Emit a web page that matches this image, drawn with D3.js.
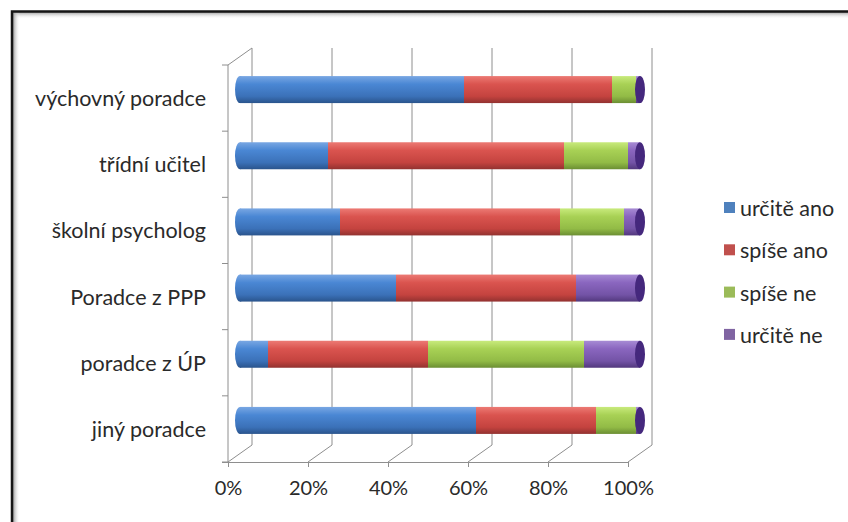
<!DOCTYPE html>
<html>
<head>
<meta charset="utf-8">
<script src="https://cdn.jsdelivr.net/npm/d3@7"></script>
<style>
  html, body { margin: 0; padding: 0; background: #fff; }
  svg { display: block; }
  text { font-family: Lato, "Open Sans", sans-serif; fill: #2a2a2a; }
</style>
</head>
<body>
<svg id="chart" width="848" height="522"></svg>
<script>
// Advisers and how much respondents trust them (percent of answers)
const categories = ["výchovný poradce", "třídní učitel", "školní psycholog", "Poradce z PPP", "poradce z ÚP", "jiný poradce"];
const seriesNames = ["určitě ano", "spíše ano", "spíše ne", "určitě ne"];
const urciteAno = [56, 22, 25, 39, 7, 59];
const spiseAno  = [37, 59, 55, 45, 40, 30];
const spiseNe   = [6, 16, 16, 0, 39, 10];
const urciteNe  = [1, 3, 4, 16, 14, 1];
const tickValues = [0, 20, 40, 60, 80, 100];

const seriesKeys = ["urciteAno", "spiseAno", "spiseNe", "urciteNe"];
const rows = categories.map((c, i) => ({
  category: c,
  urciteAno: urciteAno[i], spiseAno: spiseAno[i], spiseNe: spiseNe[i], urciteNe: urciteNe[i]
}));

// cylinder shading (light top, dark bottom) and flat legend colours
const shades = {
  urciteAno: ["#79a7e3", "#4a87d4", "#3b71b8", "#2a548c"],
  spiseAno:  ["#ec7a74", "#da544f", "#c4433f", "#923230"],
  spiseNe:   ["#c8ea7c", "#a8d155", "#92bb46", "#6b8e33"],
  urciteNe:  ["#a78bd4", "#8a66bf", "#7353a6", "#52387d"]
};
const legendColors = { urciteAno: "#4f81bd", spiseAno: "#c0504d", spiseNe: "#9bbb59", urciteNe: "#8064a2" };
const capColor = { urciteAno: "#2c5a96", spiseAno: "#8f2f2c", spiseNe: "#5f8a2a", urciteNe: "#45287d" };

const svg = d3.select("#chart");
const defs = svg.append("defs");

// gradients for the cylinders
seriesKeys.forEach(k => {
  const g = defs.append("linearGradient").attr("id", "grad-" + k)
    .attr("x1", 0).attr("y1", 0).attr("x2", 0).attr("y2", 1);
  const s = shades[k];
  [[0, s[0]], [0.3, s[1]], [0.75, s[2]], [1, s[3]]].forEach(([o, c]) =>
    g.append("stop").attr("offset", o).attr("stop-color", c));
});
// soft inner shadow of the outer frame
const shTop = defs.append("linearGradient").attr("id", "shTop").attr("x1", 0).attr("y1", 0).attr("x2", 0).attr("y2", 1);
shTop.append("stop").attr("offset", 0).attr("stop-color", "#9a9a9a");
shTop.append("stop").attr("offset", 1).attr("stop-color", "#ffffff").attr("stop-opacity", 0);
const shLeft = defs.append("linearGradient").attr("id", "shLeft").attr("x1", 0).attr("y1", 0).attr("x2", 1).attr("y2", 0);
shLeft.append("stop").attr("offset", 0).attr("stop-color", "#9a9a9a");
shLeft.append("stop").attr("offset", 1).attr("stop-color", "#ffffff").attr("stop-opacity", 0);

// outer frame
svg.append("rect").attr("x", 13).attr("y", 12).attr("width", 840).attr("height", 7).attr("fill", "url(#shTop)");
svg.append("rect").attr("x", 13).attr("y", 12).attr("width", 7).attr("height", 515).attr("fill", "url(#shLeft)");
svg.append("path").attr("d", "M12,530 V11.5 H860").attr("fill", "none").attr("stroke", "#151515").attr("stroke-width", 2.5);

// 3D geometry: front plane and depth offset
const front = { left: 228, right: 628, top: 65, bottom: 462 };
const depth = { dx: 24, dy: -17 };
const x = d3.scaleLinear().domain([0, 100]).range([front.left, front.right]);
const y = d3.scaleBand().domain(categories).range([front.top, front.bottom]);

const grid = svg.append("g").attr("stroke", "#8e8e8e").attr("stroke-width", 1).attr("fill", "none");
// back wall gridlines
tickValues.forEach(t => {
  grid.append("line")
    .attr("x1", x(t) + depth.dx).attr("x2", x(t) + depth.dx)
    .attr("y1", front.top + depth.dy).attr("y2", front.bottom + depth.dy);
  // floor lines
  grid.append("line")
    .attr("x1", x(t)).attr("x2", x(t) + depth.dx)
    .attr("y1", front.bottom).attr("y2", front.bottom + depth.dy);
});
// side wall edges
grid.append("line").attr("x1", front.left).attr("x2", front.left).attr("y1", front.top).attr("y2", front.bottom);
grid.append("line").attr("x1", front.left).attr("x2", front.left + depth.dx)
  .attr("y1", front.top).attr("y2", front.top + depth.dy);
// category ticks on the side wall
const boundaries = categories.map(c => y(c)).concat([front.bottom]);
boundaries.forEach(b => {
  grid.append("line").attr("x1", front.left - 6).attr("x2", front.left).attr("y1", b).attr("y2", b);
});

// front value axis
const xAxis = d3.axisBottom(x).tickValues(tickValues).tickFormat(d => d + "%").tickSize(5).tickSizeOuter(0).tickPadding(14);
const axisG = svg.append("g").attr("transform", `translate(0,${front.bottom})`).call(xAxis);
axisG.select(".domain").attr("stroke", "#8e8e8e").attr("d", `M${front.left - 6},0.5H${front.right}`);
axisG.selectAll(".tick line").attr("stroke", "#8e8e8e");
axisG.selectAll(".tick text").style("font-size", "20px").style("font-family", "Lato, 'Open Sans', sans-serif").attr("fill", "#2a2a2a");

// category labels
svg.append("g").selectAll("text").data(categories).join("text")
  .attr("x", 206).attr("y", d => y(d) + y.bandwidth() / 2)
  .attr("text-anchor", "end").attr("dominant-baseline", "central")
  .style("font-size", "21.5px")
  .text(d => d);

// stacked cylinders, placed halfway into the depth
const stack = d3.stack().keys(seriesKeys)(rows);
const barH = 27;
const off = { dx: depth.dx / 2, dy: depth.dy / 2 };
const capRx = 5;
const bars = svg.append("g");
categories.forEach((c, i) => {
  const cy = y(c) + y.bandwidth() / 2 + off.dy;
  const top = cy - barH / 2;
  const g = bars.append("g");
  // rounded left end
  g.append("ellipse").attr("cx", x(0) + off.dx).attr("cy", cy).attr("rx", capRx).attr("ry", barH / 2)
    .attr("fill", "url(#grad-urciteAno)");
  let lastKey = null;
  stack.forEach(layer => {
    const d = layer[i];
    if (d[1] - d[0] <= 0) return;
    lastKey = layer.key;
    g.append("rect")
      .attr("x", x(d[0]) + off.dx).attr("y", top)
      .attr("width", x(d[1]) - x(d[0])).attr("height", barH)
      .attr("fill", `url(#grad-${layer.key})`);
  });
  // visible end face
  g.append("ellipse").attr("cx", x(100) + off.dx).attr("cy", cy).attr("rx", capRx).attr("ry", barH / 2)
    .attr("fill", capColor[lastKey]);
});

// legend
const legend = svg.append("g");
seriesNames.forEach((name, i) => {
  const ly = 208 + i * 42.3;
  legend.append("rect").attr("x", 724).attr("y", ly - 6).attr("width", 11).attr("height", 11)
    .attr("fill", legendColors[seriesKeys[i]]);
  legend.append("text").attr("x", 740).attr("y", ly).attr("dominant-baseline", "central")
    .style("font-size", "21.5px").text(name);
});
</script>
</body>
</html>
